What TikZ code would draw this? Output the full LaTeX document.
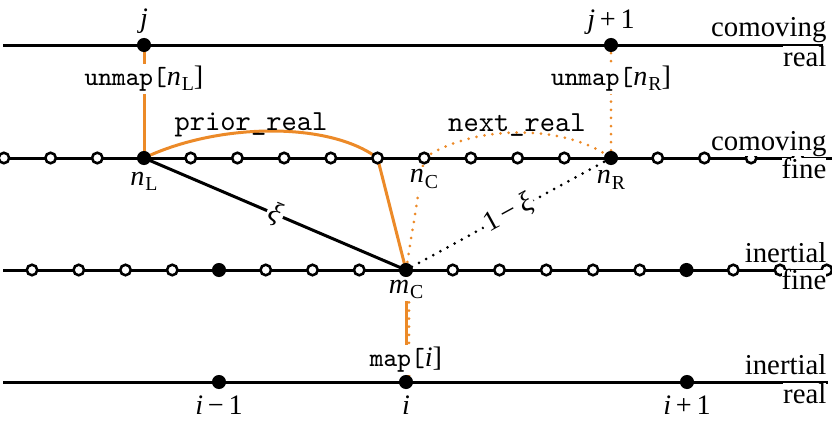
\documentclass[tikz,border=0pt]{standalone}
\usepackage{fontspec}
\setmainfont{Liberation Serif}
\usetikzlibrary{backgrounds}
\definecolor{org}{RGB}{236,138,40}
\newcommand\mv[1]{\textit{#1}}
\newcommand\sbs[1]{\kern0.3pt\raisebox{-0.4ex}{\fontsize{6.6}{7}\selectfont #1}}
\newcommand\mono{\fontsize{8.7}{10}\ttfamily}
\newcommand\monob{\fontsize{9.7}{11}\ttfamily}
\begin{document}
\begin{tikzpicture}[x=0.3333pt,y=-0.3333pt,
  ln/.style={line width=1pt},
  fdot/.style={circle,fill=black,inner sep=0pt,minimum size=4.7pt},
  odot/.style={circle,draw=black,fill=white,line width=0.85pt,inner sep=0pt,minimum size=3.5pt},
  odots/.style={dash pattern=on 0pt off 2.7pt,line cap=round,line width=1pt},
  lab/.style={font=\fontsize{9.4}{11}\selectfont, inner sep=0.8pt, text=black},
  wlab/.style={lab, fill=white},
  side/.style={font=\fontsize{9.6}{11}\selectfont, fill=white, inner sep=0pt, anchor=base east},
]
\useasboundingbox (0,0) rectangle (832,424);
\clip (0,0) rectangle (832,424);
% line ends
\coordinate (ea1) at (3,45);   \coordinate (ea2) at (823,45);
\coordinate (eb1) at (-10,158); \coordinate (eb2) at (845,158);
\coordinate (ec1) at (3,270);  \coordinate (ec2) at (845,270);
\coordinate (ed1) at (3,382);  \coordinate (ed2) at (828,382);
% comoving fine grid
\foreach \k in {-3,...,14} {
  \pgfmathsetmacro\xx{144+46.7*\k}
  \node[odot] (c\k) at (\xx,158) {};
}
% inertial fine grid
\foreach \k in {-8,...,9} {
  \pgfmathsetmacro\xx{406+46.75*\k}
  \node[odot] (f\k) at (\xx,270) {};
}
\node[fdot] (nL) at (c0) {};
\node[fdot] (nR) at (c10) {};
\node[fdot] (mC) at (f0) {};
\node[fdot] (fa) at (f-4) {};
\node[fdot] (fb) at (f6) {};
% comoving real
\node[fdot] (j0) at (144,45) {};
\node[fdot] (j1) at (611,45) {};
% inertial real
\node[fdot] (im) at (219,382) {};
\node[fdot] (i0) at (406,382) {};
\node[fdot] (ip) at (687,382) {};

\begin{scope}[on background layer]
\draw[ln] (ea1) -- (ea2);
\draw[ln] (eb1) -- (eb2);
\draw[ln] (ec1) -- (ec2);
\draw[ln] (ed1) -- (ed2);
\draw[org,ln] (nL.center) .. controls (220,122) and (330,122) .. (c5.center);
\draw[org,odots] (c6.center) .. controls (475,124) and (565,124) .. (nR.center);
\draw[org,ln] (c5.center) -- (mC.center);
\draw[org,odots] (c6.center) -- (mC.center);
\draw[ln] (nL.center) -- node[wlab,sloped,pos=0.5]{\mv{ξ}} (mC.center);
\draw[odots] (nR.center) -- node[wlab,sloped,pos=0.5]{1\,−\,\mv{ξ}} (mC.center);
\draw[org,ln] (j0.center) -- node[wlab,pos=0.3]{\mono unmap[\fontsize{9.4}{11}\rmfamily\mv{n}\sbs{L}]} (nL.center);
\draw[org,odots] (j1.center) -- node[wlab,pos=0.3]{\mono unmap[\fontsize{9.4}{11}\rmfamily\mv{n}\sbs{R}]} (nR.center);
\draw[org,odots,transform canvas={xshift=1pt}] (mC.center) -- (i0.center);
\draw[org,ln] (mC.center) -- node[wlab,pos=0.8]{\mono map[\fontsize{9.4}{11}\rmfamily\mv{i}]} (i0.center);
\end{scope}

% arc labels
\node[lab,anchor=base] (prl) at (251,131) {\monob prior\_real};
\node[lab,anchor=base] (nxr) at (517,132) {\monob next\_real};
% point labels
\node[lab,anchor=base] (lj0) at (144,27) {\mv{j}};
\node[lab,anchor=base] (lj1) at (611,28) {\mv{j}\,+\,1};
\node[wlab,anchor=base] (lnL) at (144,185) {\mv{n}\sbs{L}};
\node[wlab,anchor=base] (lnC) at (424,183) {\mv{n}\sbs{C}};
\node[wlab,anchor=base] (lnR) at (611,184) {\mv{n}\sbs{R}};
\node[wlab,anchor=base] (lmC) at (406,293) {\mv{m}\sbs{C}};
\node[lab,anchor=base] (lim) at (219,414) {\mv{i}\,−\,1};
\node[lab,anchor=base] (li0) at (406,414) {\mv{i}};
\node[lab,anchor=base] (lip) at (687,414) {\mv{i}\,+\,1};
% side labels
\node[side] (s1a) at (827,37) {comoving};
\node[side] (s1b) at (827,66) {real};
\node[side] (s2a) at (827,150) {comoving};
\node[side] (s2b) at (827,178) {fine};
\node[side] (s3a) at (827,262) {inertial};
\node[side] (s3b) at (827,290) {fine};
\node[side] (s4a) at (827,374) {inertial};
\node[side] (s4b) at (827,403) {real};
\end{tikzpicture}
\end{document}
